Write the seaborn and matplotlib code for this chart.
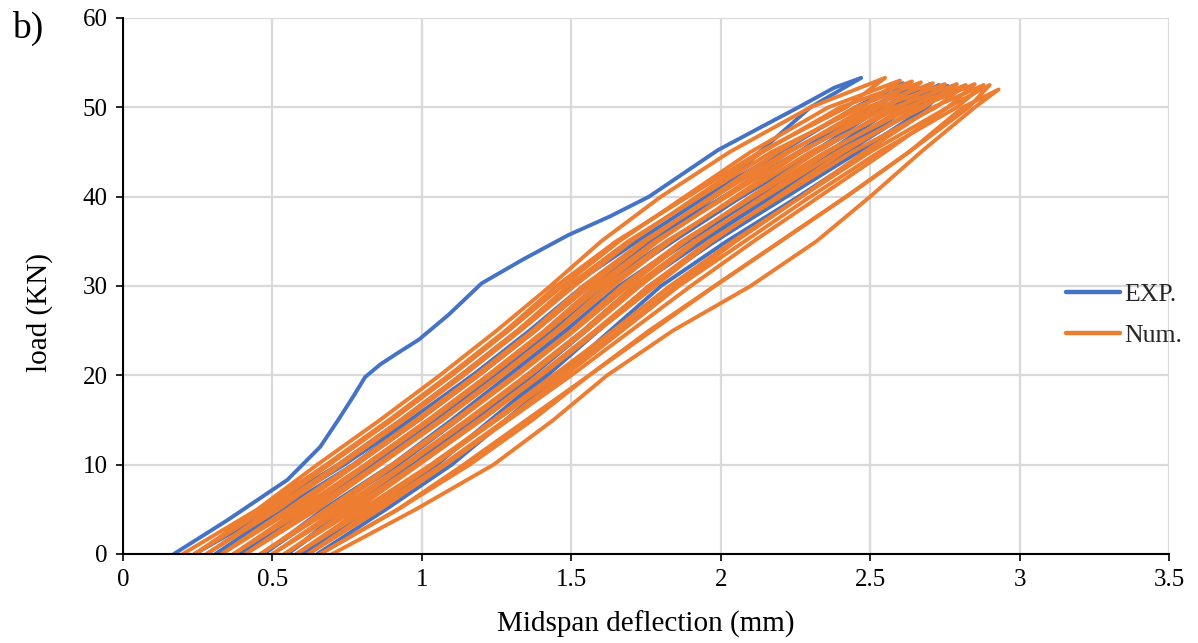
import matplotlib
matplotlib.use("Agg")
import matplotlib.pyplot as plt
import pandas as pd
import seaborn as sns
from matplotlib.lines import Line2D

# Load levels (kN) at which each branch is read
LOADS = [0, 5, 10, 15, 20, 25, 30, 35, 40, 45, 50]

# Experimental: first loading branch, traced in detail
EXP_FIRST_UP_X = [0.17, 0.35, 0.55, 0.66, 0.72, 0.77, 0.81, 0.86, 0.91, 0.99, 1.09, 1.20,
                  1.34, 1.49, 1.63, 1.76, 1.99, 2.13, 2.26, 2.38]
EXP_FIRST_UP_Y = [0.0, 3.8, 8.3, 12.0, 15.0, 17.6, 19.8, 21.2, 22.3, 24.0, 26.8, 30.3,
                  33.0, 35.7, 37.8, 40.0, 45.2, 47.7, 50.0, 52.2]

# Experimental: reloading branches (deflection at LOADS)
EXP_UP_X = [
    [0.24, 0.48, 0.72, 0.93, 1.13, 1.32, 1.50, 1.72, 1.95, 2.20, 2.45],
    [0.31, 0.55, 0.78, 0.99, 1.19, 1.38, 1.56, 1.78, 2.01, 2.26, 2.50],
    [0.39, 0.62, 0.85, 1.05, 1.25, 1.44, 1.62, 1.84, 2.07, 2.31, 2.54],
    [0.47, 0.69, 0.92, 1.12, 1.31, 1.49, 1.67, 1.89, 2.12, 2.36, 2.58],
    [0.55, 0.76, 0.98, 1.18, 1.37, 1.55, 1.72, 1.94, 2.17, 2.40, 2.62],
    [0.60, 0.82, 1.04, 1.24, 1.42, 1.59, 1.76, 1.98, 2.21, 2.43, 2.62],
]
# Experimental: peak of every cycle
EXP_PEAK_X = [2.47, 2.61, 2.66, 2.70, 2.73, 2.76, 2.74]
EXP_PEAK_Y = [53.3, 52.7, 52.6, 52.6, 52.5, 52.4, 52.3]
# Experimental: unloading branches (deflection at LOADS)
EXP_DOWN_X = [
    [0.24, 0.50, 0.74, 0.96, 1.17, 1.37, 1.56, 1.77, 1.98, 2.13, 2.30],
    [0.31, 0.53, 0.77, 0.97, 1.17, 1.36, 1.54, 1.76, 2.01, 2.27, 2.53],
    [0.39, 0.60, 0.83, 1.03, 1.23, 1.42, 1.60, 1.82, 2.07, 2.32, 2.58],
    [0.47, 0.67, 0.90, 1.10, 1.29, 1.48, 1.66, 1.88, 2.12, 2.37, 2.62],
    [0.55, 0.74, 0.97, 1.16, 1.35, 1.54, 1.71, 1.93, 2.17, 2.42, 2.66],
    [0.60, 0.82, 1.05, 1.23, 1.41, 1.59, 1.76, 1.98, 2.22, 2.46, 2.69],
    [0.65, 0.88, 1.10, 1.28, 1.46, 1.63, 1.80, 2.02, 2.26, 2.49, 2.68],
]

# Numerical model: loading branches (deflection at LOADS)
NUM_UP_X = [
    [0.20, 0.45, 0.65, 0.86, 1.06, 1.25, 1.43, 1.60, 1.80, 2.03, 2.30],
    [0.24, 0.48, 0.69, 0.90, 1.10, 1.29, 1.47, 1.66, 1.88, 2.10, 2.36],
    [0.28, 0.52, 0.73, 0.94, 1.14, 1.33, 1.51, 1.70, 1.92, 2.14, 2.40],
    [0.33, 0.57, 0.78, 0.99, 1.19, 1.38, 1.56, 1.75, 1.97, 2.19, 2.45],
    [0.37, 0.61, 0.82, 1.03, 1.23, 1.42, 1.60, 1.79, 2.01, 2.23, 2.49],
    [0.41, 0.65, 0.86, 1.07, 1.27, 1.46, 1.64, 1.83, 2.05, 2.27, 2.53],
    [0.46, 0.70, 0.91, 1.12, 1.32, 1.51, 1.69, 1.88, 2.10, 2.32, 2.58],
    [0.50, 0.74, 0.95, 1.16, 1.36, 1.55, 1.73, 1.92, 2.14, 2.36, 2.62],
    [0.54, 0.78, 0.99, 1.20, 1.40, 1.59, 1.78, 1.97, 2.19, 2.41, 2.66],
    [0.58, 0.82, 1.04, 1.25, 1.46, 1.66, 1.85, 2.05, 2.27, 2.48, 2.71],
    [0.62, 0.86, 1.08, 1.29, 1.50, 1.70, 1.90, 2.11, 2.33, 2.55, 2.76],
    [0.66, 0.92, 1.14, 1.35, 1.56, 1.77, 1.98, 2.20, 2.42, 2.63, 2.81],
]
NUM_PEAK_X = [2.55, 2.60, 2.64, 2.67, 2.71, 2.75, 2.79, 2.82, 2.85, 2.88, 2.90, 2.93]
NUM_PEAK_Y = [53.3, 53.0, 52.9, 52.8, 52.7, 52.6, 52.6, 52.5, 52.6, 52.5, 52.5, 52.0]
# Numerical model: unloading branches (deflection at LOADS)
NUM_DOWN_X = [
    [0.24, 0.46, 0.68, 0.89, 1.09, 1.28, 1.45, 1.65, 1.89, 2.13, 2.42],
    [0.28, 0.50, 0.72, 0.93, 1.13, 1.32, 1.49, 1.69, 1.93, 2.17, 2.47],
    [0.33, 0.55, 0.77, 0.98, 1.18, 1.37, 1.54, 1.74, 1.98, 2.22, 2.52],
    [0.37, 0.59, 0.81, 1.02, 1.22, 1.41, 1.58, 1.78, 2.02, 2.26, 2.56],
    [0.41, 0.63, 0.85, 1.06, 1.26, 1.45, 1.62, 1.82, 2.06, 2.30, 2.60],
    [0.46, 0.68, 0.90, 1.11, 1.31, 1.50, 1.67, 1.87, 2.11, 2.35, 2.64],
    [0.50, 0.72, 0.94, 1.15, 1.35, 1.54, 1.71, 1.91, 2.15, 2.39, 2.68],
    [0.54, 0.76, 0.98, 1.19, 1.39, 1.58, 1.76, 1.96, 2.20, 2.44, 2.72],
    [0.58, 0.80, 1.03, 1.24, 1.44, 1.64, 1.83, 2.04, 2.27, 2.50, 2.76],
    [0.62, 0.84, 1.07, 1.28, 1.48, 1.67, 1.86, 2.08, 2.30, 2.53, 2.79],
    [0.66, 0.92, 1.16, 1.37, 1.56, 1.76, 1.98, 2.20, 2.42, 2.63, 2.83],
    [0.70, 0.98, 1.24, 1.44, 1.62, 1.84, 2.10, 2.32, 2.50, 2.67, 2.85],
]

X_TICKS = [0, 0.5, 1, 1.5, 2, 2.5, 3, 3.5]
X_TICK_LABELS = ["0", "0.5", "1", "1.5", "2", "2.5", "3", "3.5"]
Y_TICKS = [0, 10, 20, 30, 40, 50, 60]

BLUE = "#4472C4"
ORANGE = "#ED7D31"


def cycle_rows(series, idx, up_x, up_y, px, py, down_x):
    """One closed cycle: loading branch, peak, then unloading branch."""
    xs = list(up_x) + [px] + list(reversed(down_x))
    ys = list(up_y) + [py] + list(reversed(LOADS))
    return pd.DataFrame({"deflection": xs, "load": ys,
                         "series": series, "cycle": f"{series}-{idx}",
                         "step": range(len(xs))})


frames = []
for i in range(len(EXP_PEAK_X)):
    if i == 0:
        ux, uy = EXP_FIRST_UP_X, EXP_FIRST_UP_Y
    else:
        ux, uy = EXP_UP_X[i - 1], LOADS
    frames.append(cycle_rows("EXP.", i, ux, uy, EXP_PEAK_X[i], EXP_PEAK_Y[i], EXP_DOWN_X[i]))
exp_df = pd.concat(frames, ignore_index=True)

frames = []
for i in range(len(NUM_PEAK_X)):
    frames.append(cycle_rows("Num.", i, NUM_UP_X[i], LOADS, NUM_PEAK_X[i], NUM_PEAK_Y[i], NUM_DOWN_X[i]))
num_df = pd.concat(frames, ignore_index=True)

sns.set_theme(style="white")
plt.rcParams["font.family"] = ["Liberation Serif", "DejaVu Serif"]

fig = plt.figure(figsize=(11.98, 6.43), dpi=100)
ax = fig.add_axes([123 / 1198, 1 - 554 / 643, (1169 - 123) / 1198, (554 - 18) / 643])

line_kw = dict(linewidth=2.8, solid_joinstyle="round", solid_capstyle="round")
sns.lineplot(data=exp_df, x="deflection", y="load", units="cycle", estimator=None,
             sort=False, color=BLUE, legend=False, ax=ax, **line_kw)
sns.lineplot(data=num_df, x="deflection", y="load", units="cycle", estimator=None,
             sort=False, color=ORANGE, legend=False, ax=ax, **line_kw)

ax.set_xlim(0, 3.5)
ax.set_ylim(0, 60)
ax.set_xticks(X_TICKS)
ax.set_xticklabels(X_TICK_LABELS)
ax.set_yticks(Y_TICKS)
ax.grid(True, color="#d9d9d9", linewidth=1.6)
ax.set_axisbelow(True)
for side in ("top", "right"):
    ax.spines[side].set_visible(False)
for side in ("left", "bottom"):
    ax.spines[side].set_color("black")
    ax.spines[side].set_linewidth(1.5)
ax.tick_params(axis="both", which="major", labelsize=18, colors="black",
               length=5, width=1.2, direction="out", left=True, bottom=True, pad=6)

ax.set_xlabel("Midspan deflection (mm)", fontsize=21, color="black", labelpad=14)
ax.set_ylabel("load (KN)", fontsize=21, color="black")
ax.yaxis.set_label_coords(-0.067, 0.45)

fig.text(12 / 1198, 1 - 28 / 643, "b)", fontsize=27, color="black", va="center", ha="left")

handles = [Line2D([], [], color=BLUE, linewidth=3.2, solid_capstyle="round"),
           Line2D([], [], color=ORANGE, linewidth=3.2, solid_capstyle="round")]
fig.legend(handles, ["EXP.", "Num."], loc="center left",
           bbox_to_anchor=(1043 / 1198, 1 - 315 / 643), frameon=False,
           fontsize=18.5, handlelength=2.1, handletextpad=0.18, labelspacing=0.7)

fig.savefig("out.png", dpi=100)
